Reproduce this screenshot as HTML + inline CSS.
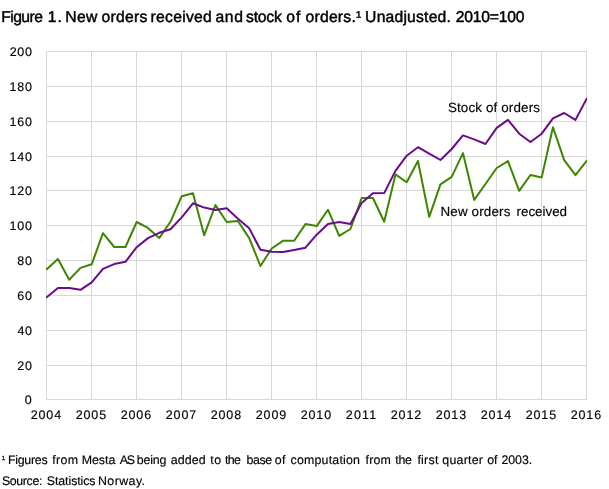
<!DOCTYPE html>
<html><head><meta charset="utf-8"><title>Figure 1</title>
<style>
html,body{margin:0;padding:0;background:#fff;}
svg{display:block;font-family:"Liberation Sans",sans-serif;fill:#000;text-rendering:geometricPrecision;}
.g line{stroke:#d8d8d8;stroke-width:1;shape-rendering:crispEdges;}
.t{stroke:#000;stroke-width:0.45px;text-rendering:geometricPrecision;}
.a,.l,.f{stroke:#000;stroke-width:0.15px;}
.ser{fill:none;stroke-width:2;stroke-linejoin:round;stroke-linecap:round;}
</style></head><body>
<svg width="609" height="489" viewBox="0 0 609 489">
<rect width="609" height="489" fill="#fff"/>
<g class="g">
<line x1="46.5" y1="51" x2="46.5" y2="400"/>
<line x1="91.5" y1="51" x2="91.5" y2="400"/>
<line x1="136.5" y1="51" x2="136.5" y2="400"/>
<line x1="181.5" y1="51" x2="181.5" y2="400"/>
<line x1="226.5" y1="51" x2="226.5" y2="400"/>
<line x1="271.5" y1="51" x2="271.5" y2="400"/>
<line x1="316.5" y1="51" x2="316.5" y2="400"/>
<line x1="361.5" y1="51" x2="361.5" y2="400"/>
<line x1="406.5" y1="51" x2="406.5" y2="400"/>
<line x1="451.5" y1="51" x2="451.5" y2="400"/>
<line x1="496.5" y1="51" x2="496.5" y2="400"/>
<line x1="541.5" y1="51" x2="541.5" y2="400"/>
<line x1="586.5" y1="51" x2="586.5" y2="400"/>
<line x1="46" y1="51.5" x2="587" y2="51.5"/>
<line x1="46" y1="86.5" x2="587" y2="86.5"/>
<line x1="46" y1="121.5" x2="587" y2="121.5"/>
<line x1="46" y1="156.5" x2="587" y2="156.5"/>
<line x1="46" y1="190.5" x2="587" y2="190.5"/>
<line x1="46" y1="225.5" x2="587" y2="225.5"/>
<line x1="46" y1="260.5" x2="587" y2="260.5"/>
<line x1="46" y1="295.5" x2="587" y2="295.5"/>
<line x1="46" y1="330.5" x2="587" y2="330.5"/>
<line x1="46" y1="365.5" x2="587" y2="365.5"/>
<line x1="46" y1="399.5" x2="587" y2="399.5"/>
</g>
<clipPath id="cp"><rect x="46" y="51" width="541" height="349"/></clipPath>
<g clip-path="url(#cp)">
<polyline class="ser" stroke="#3e8601" points="46.70,269.3 57.95,259.0 69.20,279.7 80.45,267.9 91.70,264.3 102.95,233.2 114.20,247.0 125.45,247.0 136.70,222.0 147.95,227.9 159.20,238.1 170.45,221.8 181.70,196.2 192.95,193.2 204.20,235.2 215.45,205.0 226.70,222.0 237.95,221.0 249.20,238.1 260.45,266.0 271.70,248.5 282.95,240.8 294.20,240.8 305.45,224.1 316.70,226.1 327.95,209.7 339.20,235.9 350.45,229.0 361.70,198.0 372.95,198.0 384.20,221.7 395.45,174.4 406.70,182.3 417.95,161.0 429.20,216.8 440.45,184.3 451.70,176.9 462.95,153.1 474.20,199.9 485.45,184.0 496.70,168.0 507.95,161.1 519.20,190.8 530.45,175.0 541.70,177.4 552.95,127.2 564.20,160.1 575.45,175.1 586.70,160.8"/>
<polyline class="ser" stroke="#6a0b8a" points="46.70,297.2 57.95,288.0 69.20,288.0 80.45,289.8 91.70,282.3 102.95,268.9 114.20,264.1 125.45,261.8 136.70,247.2 147.95,238.1 159.20,232.8 170.45,229.3 181.70,217.4 192.95,203.3 204.20,207.6 215.45,210.0 226.70,208.2 237.95,218.8 249.20,228.3 260.45,249.8 271.70,251.8 282.95,251.9 294.20,249.9 305.45,247.7 316.70,234.7 327.95,224.1 339.20,221.9 350.45,223.9 361.70,202.9 372.95,193.2 384.20,193.1 395.45,170.9 406.70,155.7 417.95,147.2 429.20,153.7 440.45,160.0 451.70,149.0 462.95,135.4 474.20,139.4 485.45,144.0 496.70,127.9 507.95,119.9 519.20,133.7 530.45,142.0 541.70,133.7 552.95,118.3 564.20,113.0 575.45,119.9 586.70,98.7"/>
</g>
<g>
<text class="t" x="1.20" y="21.9" font-size="15.7" letter-spacing="-0.554">Figure</text>
<text class="t" x="47.83" y="21.9" font-size="15.7" letter-spacing="0.900">1.</text>
<text class="t" x="65.30" y="21.9" font-size="15.7" letter-spacing="0.365">New</text>
<text class="t" x="101.40" y="21.9" font-size="15.7" letter-spacing="0.290">orders</text>
<text class="t" x="150.60" y="21.9" font-size="15.7" letter-spacing="0.270">received</text>
<text class="t" x="215.40" y="21.9" font-size="15.7" letter-spacing="0.668">and</text>
<text class="t" x="246.00" y="21.9" font-size="15.7" letter-spacing="-0.198">stock</text>
<text class="t" x="286.33" y="21.9" font-size="15.7" letter-spacing="0.900">of</text>
<text class="t" x="305.60" y="21.9" font-size="15.7" letter-spacing="0.220">orders.¹</text>
<text class="t" x="365.10" y="21.9" font-size="15.7" letter-spacing="0.207">Unadjusted.</text>
<text class="t" x="455.70" y="21.9" font-size="15.7" letter-spacing="-0.223">2010=100</text>
<text class="l" x="447.90" y="112.2" font-size="13.4" letter-spacing="0.142">Stock of orders</text>
<text class="l" x="440.50" y="215.9" font-size="13.4" letter-spacing="0.154">New orders</text>
<text class="l" x="516.60" y="215.9" font-size="13.4" letter-spacing="-0.028">received</text>
<text class="f" x="1.80" y="462.9" font-size="10.5" letter-spacing="0.000">¹</text>
<text class="f" x="7.90" y="463.7" font-size="12.4" letter-spacing="-0.258">Figures</text>
<text class="f" x="52.20" y="463.7" font-size="12.4" letter-spacing="0.376">from</text>
<text class="f" x="81.80" y="463.7" font-size="12.4" letter-spacing="-0.068">Mesta</text>
<text class="f" x="119.70" y="463.7" font-size="12.4" letter-spacing="-1.271">AS</text>
<text class="f" x="136.70" y="463.7" font-size="12.4" letter-spacing="-0.136">being</text>
<text class="f" x="170.70" y="463.7" font-size="12.4" letter-spacing="0.129">added</text>
<text class="f" x="210.20" y="463.7" font-size="12.4" letter-spacing="0.555">to</text>
<text class="f" x="224.90" y="463.7" font-size="12.4" letter-spacing="-0.621">the</text>
<text class="f" x="246.40" y="463.7" font-size="12.4" letter-spacing="-0.364">base</text>
<text class="f" x="274.80" y="463.7" font-size="12.4" letter-spacing="0.404">of</text>
<text class="f" x="290.50" y="463.7" font-size="12.4" letter-spacing="0.194">computation</text>
<text class="f" x="365.60" y="463.7" font-size="12.4" letter-spacing="0.110">from</text>
<text class="f" x="395.20" y="463.7" font-size="12.4" letter-spacing="-0.221">the</text>
<text class="f" x="417.40" y="463.7" font-size="12.4" letter-spacing="0.243">first</text>
<text class="f" x="442.30" y="463.7" font-size="12.4" letter-spacing="0.223">quarter</text>
<text class="f" x="487.30" y="463.7" font-size="12.4" letter-spacing="-0.196">of</text>
<text class="f" x="501.40" y="463.7" font-size="12.4" letter-spacing="-0.046">2003.</text>
<text class="f" x="1.90" y="484.5" font-size="12.4" letter-spacing="-0.365">Source:</text>
<text class="f" x="46.80" y="484.5" font-size="12.4" letter-spacing="-0.090">Statistics</text>
<text class="f" x="98.00" y="484.5" font-size="12.4" letter-spacing="0.415">Norway.</text>
<text class="a" x="9.80" y="55.9" font-size="12.5" letter-spacing="0.598">200</text>
<text class="a" x="9.50" y="90.9" font-size="12.5" letter-spacing="0.748">180</text>
<text class="a" x="9.50" y="125.9" font-size="12.5" letter-spacing="0.748">160</text>
<text class="a" x="9.50" y="160.9" font-size="12.5" letter-spacing="0.748">140</text>
<text class="a" x="9.50" y="194.9" font-size="12.5" letter-spacing="0.748">120</text>
<text class="a" x="9.50" y="229.9" font-size="12.5" letter-spacing="0.748">100</text>
<text class="a" x="17.30" y="264.9" font-size="12.5" letter-spacing="0.648">80</text>
<text class="a" x="17.20" y="299.9" font-size="12.5" letter-spacing="0.748">60</text>
<text class="a" x="17.60" y="334.9" font-size="12.5" letter-spacing="0.348">40</text>
<text class="a" x="17.20" y="369.9" font-size="12.5" letter-spacing="0.748">20</text>
<text class="a" x="24.80" y="403.9" font-size="12.5" letter-spacing="0.000">0</text>
<text class="a" x="30.65" y="418.8" font-size="12.5" letter-spacing="0.881">2004</text>
<text class="a" x="75.65" y="418.8" font-size="12.5" letter-spacing="0.915">2005</text>
<text class="a" x="120.65" y="418.8" font-size="12.5" letter-spacing="0.915">2006</text>
<text class="a" x="165.65" y="418.8" font-size="12.5" letter-spacing="0.948">2007</text>
<text class="a" x="210.65" y="418.8" font-size="12.5" letter-spacing="0.915">2008</text>
<text class="a" x="255.65" y="418.8" font-size="12.5" letter-spacing="0.948">2009</text>
<text class="a" x="300.65" y="418.8" font-size="12.5" letter-spacing="0.915">2010</text>
<text class="a" x="345.74" y="418.8" font-size="12.5" letter-spacing="1.200">2011</text>
<text class="a" x="390.65" y="418.8" font-size="12.5" letter-spacing="0.948">2012</text>
<text class="a" x="435.65" y="418.8" font-size="12.5" letter-spacing="0.915">2013</text>
<text class="a" x="480.65" y="418.8" font-size="12.5" letter-spacing="0.881">2014</text>
<text class="a" x="525.65" y="418.8" font-size="12.5" letter-spacing="0.915">2015</text>
<text class="a" x="570.65" y="418.8" font-size="12.5" letter-spacing="0.915">2016</text>
</g>
</svg>
</body></html>
